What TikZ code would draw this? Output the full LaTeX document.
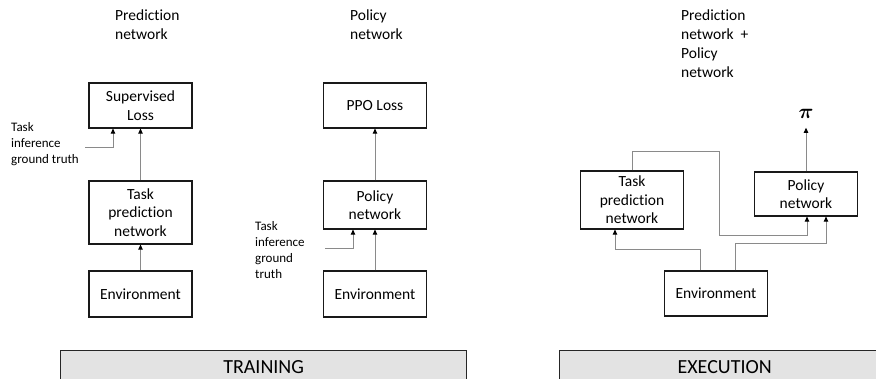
\documentclass[tikz,border=0pt]{standalone}
\usepackage{amsmath}
\usepackage{fontspec}
\setmainfont{Carlito}[Ligatures={NoCommon}]
\usetikzlibrary{arrows.meta}
\definecolor{conngray}{HTML}{8A8A8A}
\definecolor{bannerfill}{HTML}{E3E3E3}
\begin{document}
\begin{tikzpicture}[x=1pt,y=-1pt,
  box/.style={draw=black!90, line width=1.2pt, fill=white, minimum width=103pt, align=center, inner sep=0pt,
    font=\fontsize{15.5}{18.5}\selectfont},
  title/.style={anchor=north west, inner sep=0pt, align=left, font=\fontsize{15.5}{18.7}\selectfont},
  sidetext/.style={anchor=north west, inner sep=0pt, align=left, font=\fontsize{13}{16}\selectfont},
  banner/.style={draw=black!85, line width=1.3pt, fill=bannerfill, anchor=north west, minimum height=32pt, inner sep=0pt,
    font=\fontsize{20}{22}\selectfont},
  conn/.style={draw=conngray, line width=0.7pt, -{Triangle[length=5pt,width=4.5pt,color=black]}}
]
\useasboundingbox (0,0) rectangle (876,379);

% titles
\node[title] (t1) at (115,10) {Prediction\\network};
\node[title] (t2) at (350,10) {Policy\\network};
\node[title] (t3) at (681,10) {Prediction\\network\ \ +\\Policy\\network};

% training: prediction network
\node[box, minimum height=45pt] (SL) at (140.5,105.5) {Supervised\\Loss};
\node[box, minimum height=63pt] (TP1) at (140.5,212.5) {Task\\prediction\\network};
\node[box, minimum height=46pt] (E1) at (140.5,294) {Environment};
\node[sidetext] (g1) at (11,122.5) {Task\\inference\\ground truth};
\coordinate (g1end) at (85,147);

% training: policy network
\node[box, minimum height=45pt] (PPO) at (375,105.5) {PPO Loss};
\node[box, minimum height=48pt] (P1) at (375,205) {Policy\\network};
\node[box, minimum height=46pt] (E2) at (375,294) {Environment};
\node[sidetext] (g2) at (255,221.5) {Task\\inference\\ground\\truth};
\coordinate (g2end) at (325,248);

% execution
\node[box, minimum height=58pt] (TP2) at (632,200) {Task\\prediction\\network};
\node[box, minimum height=44pt] (P2) at (806,194) {Policy\\network};
\node[box, minimum height=45pt] (E3) at (716,293.5) {Environment};
\node[inner xsep=0pt, inner ysep=9pt, font=\fontsize{20}{22}\selectfont] (pi) at (806,114) {$\boldsymbol{\pi}$};
\coordinate (r1) at (719,151);
\coordinate (r2) at (719,235);

% banners
\node[banner, minimum width=406pt] (train) at (60,350) {TRAINING};
\node[banner, minimum width=330pt] (exec) at (559,350) {EXECUTION};

% connectors - training
\draw[conn] (TP1.north) -- (SL.south);
\draw[conn] (E1.north) -- (TP1.south);
\draw[conn] (g1end) -| ([xshift=-27.5pt]SL.south);
\draw[conn] (P1.north) -- (PPO.south);
\draw[conn] (E2.north) -- (P1.south);
\draw[conn] (g2end) -| ([xshift=-22pt]P1.south);

% connectors - execution
\draw[conn] (P2.north) -- (pi.south);
\draw[conn] (TP2.north) |- (r1) -- (r2) -| ([xshift=1pt]P2.south);
\draw[conn] ([xshift=-16pt]E3.north) -- ++(0,-21) -| ([xshift=-17pt]TP2.south);
\draw[conn] ([xshift=19pt]E3.north) -- ++(0,-27) -| ([xshift=20pt]P2.south);
\end{tikzpicture}
\end{document}
